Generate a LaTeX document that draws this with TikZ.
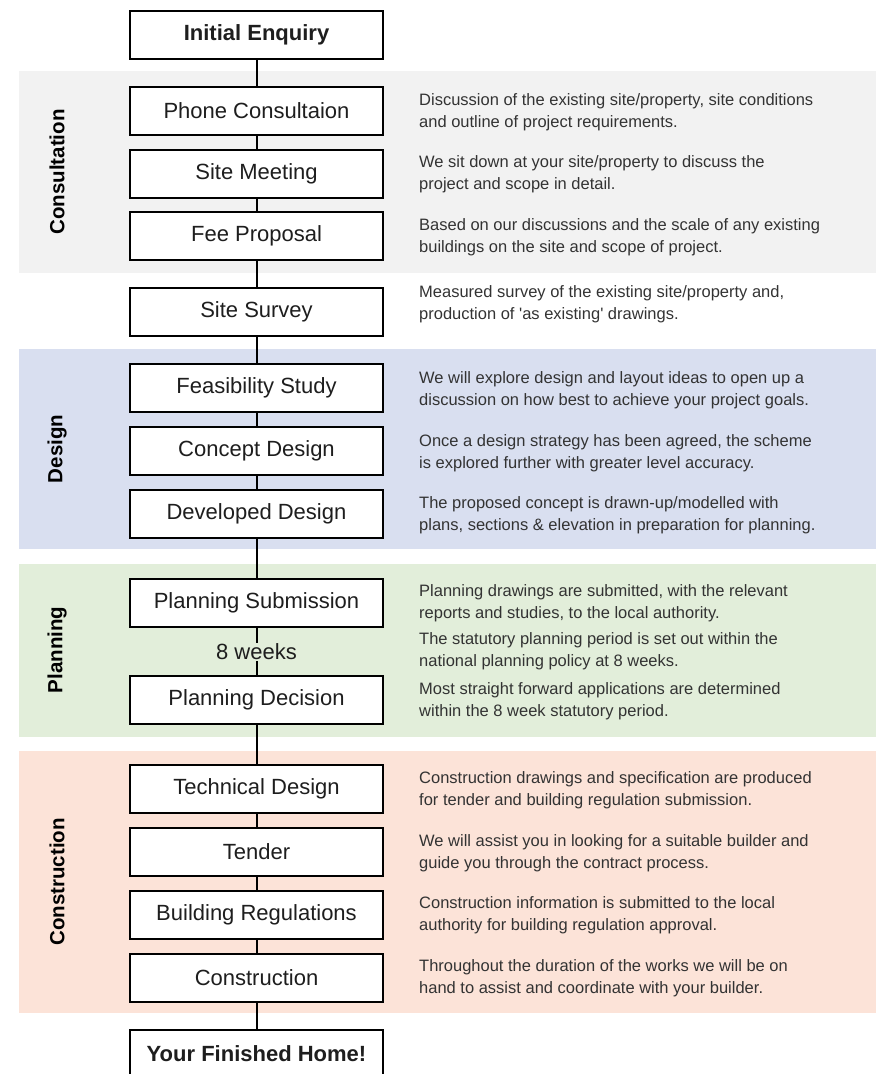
\documentclass[tikz,border=0pt]{standalone}
\usepackage{fontspec}
\setmainfont{Liberation Sans}
\definecolor{consultband}{HTML}{F2F2F2}
\definecolor{designband}{HTML}{D9DFF0}
\definecolor{planband}{HTML}{E2EEDA}
\definecolor{buildband}{HTML}{FCE3D8}
\definecolor{boxtext}{HTML}{1E1E1E}
\definecolor{desctext}{HTML}{333333}
\begin{document}
\begin{tikzpicture}[x=1pt,y=-1pt,
  stepbox/.style={draw=black, line width=2pt, fill=white,
    minimum width=253pt, minimum height=48pt, inner sep=0pt,
    font=\fontsize{22}{26}\selectfont, text=boxtext},
  endbox/.style={stepbox, font=\bfseries\fontsize{22}{26}\selectfont},
  desc/.style={anchor=west, align=left, inner sep=0pt,
    font=\fontsize{16.5}{22}\selectfont, text=desctext},
  phase/.style={rotate=90, inner sep=0pt,
    font=\bfseries\fontsize{20.5}{24}\selectfont, text=black},
  conn/.style={draw=black, line width=2pt}]
\useasboundingbox (0,0) rectangle (876,1074);
\clip (0,0) rectangle (876,1074);

% phase bands
\fill[consultband] (19,71) rectangle (876,273);
\fill[designband]  (19,349) rectangle (876,549);
\fill[planband]    (19,564) rectangle (876,737);
\fill[buildband]   (19,751) rectangle (876,1013);

% phase titles
\node[phase] (tConsult) at (57,172) {Consultation};
\node[phase] (tDesign)  at (57,449) {Design};
\node[phase] (tPlan)    at (57,650) {Planning};
\node[phase] (tBuild)   at (57,882) {Construction};

% steps
\def\cx{256.5}
\node[endbox]  (init)    at (\cx,35)    {Initial Enquiry};
\node[stepbox] (phone)   at (\cx,111)   {Phone Consultaion};
\node[stepbox] (meet)    at (\cx,173.5) {Site Meeting};
\node[stepbox] (fee)     at (\cx,236)   {Fee Proposal};
\node[stepbox] (survey)  at (\cx,312)   {Site Survey};
\node[stepbox] (feas)    at (\cx,388)   {Feasibility Study};
\node[stepbox] (concept) at (\cx,451)   {Concept Design};
\node[stepbox] (devel)   at (\cx,513.5) {Developed Design};
\node[stepbox] (psub)    at (\cx,602.5) {Planning Submission};
\node[inner sep=1pt, font=\fontsize{22}{26}\selectfont, text=boxtext]
               (weeks)   at (\cx,652)   {8 weeks};
\node[stepbox] (pdec)    at (\cx,700)   {Planning Decision};
\node[stepbox] (tech)    at (\cx,788.5) {Technical Design};
\node[stepbox] (tender)  at (\cx,852)   {Tender};
\node[stepbox] (breg)    at (\cx,914.5) {Building Regulations};
\node[stepbox] (constr)  at (\cx,977.5) {Construction};
\node[endbox]  (home)    at (\cx,1054)  {Your Finished Home!};

% spine
\draw[conn] (init.south) -- (phone.north);
\draw[conn] (phone.south) -- (meet.north);
\draw[conn] (meet.south) -- (fee.north);
\draw[conn] (fee.south) -- (survey.north);
\draw[conn] (survey.south) -- (feas.north);
\draw[conn] (feas.south) -- (concept.north);
\draw[conn] (concept.south) -- (devel.north);
\draw[conn] (devel.south) -- (psub.north);
\draw[conn] (psub.south) -- (weeks.north);
\draw[conn] (weeks.south) -- (pdec.north);
\draw[conn] (pdec.south) -- (tech.north);
\draw[conn] (tech.south) -- (tender.north);
\draw[conn] (tender.south) -- (breg.north);
\draw[conn] (breg.south) -- (constr.north);
\draw[conn] (constr.south) -- (home.north);

% descriptions
\def\dx{419}
\node[desc] (dPhone)   at (\dx,112)   {Discussion of the existing site/property, site conditions\\and outline of project requirements.};
\node[desc] (dMeet)    at (\dx,174.5) {We sit down at your site/property to discuss the\\project and scope in detail.};
\node[desc] (dFee)     at (\dx,237)   {Based on our discussions and the scale of any existing\\buildings on the site and scope of project.};
\node[desc] (dSurvey)  at (\dx,304)   {Measured survey of the existing site/property and,\\production of \textquotesingle as existing\textquotesingle\ drawings.};
\node[desc] (dFeas)    at (\dx,390.5) {We will explore design and layout ideas to open up a\\discussion on how best to achieve your project goals.};
\node[desc] (dConcept) at (\dx,453)   {Once a design strategy has been agreed, the scheme\\is explored further with greater level accuracy.};
\node[desc] (dDevel)   at (\dx,515.5) {The proposed concept is drawn-up/modelled with\\plans, sections \& elevation in preparation for planning.};
\node[desc] (dSub)     at (\dx,603)   {Planning drawings are submitted, with the relevant\\reports and studies, to the local authority.};
\node[desc] (dWeeks)   at (\dx,651.5) {The statutory planning period is set out within the\\national planning policy at 8 weeks.};
\node[desc] (dDec)     at (\dx,701)   {Most straight forward applications are determined\\within the 8 week statutory period.};
\node[desc] (dTech)    at (\dx,790.5) {Construction drawings and specification are produced\\for tender and building regulation submission.};
\node[desc] (dTender)  at (\dx,853)   {We will assist you in looking for a suitable builder and\\guide you through the contract process.};
\node[desc] (dBreg)    at (\dx,915.5) {Construction information is submitted to the local\\authority for building regulation approval.};
\node[desc] (dConstr)  at (\dx,978)   {Throughout the duration of the works we will be on\\hand to assist and coordinate with your builder.};
\end{tikzpicture}
\end{document}
